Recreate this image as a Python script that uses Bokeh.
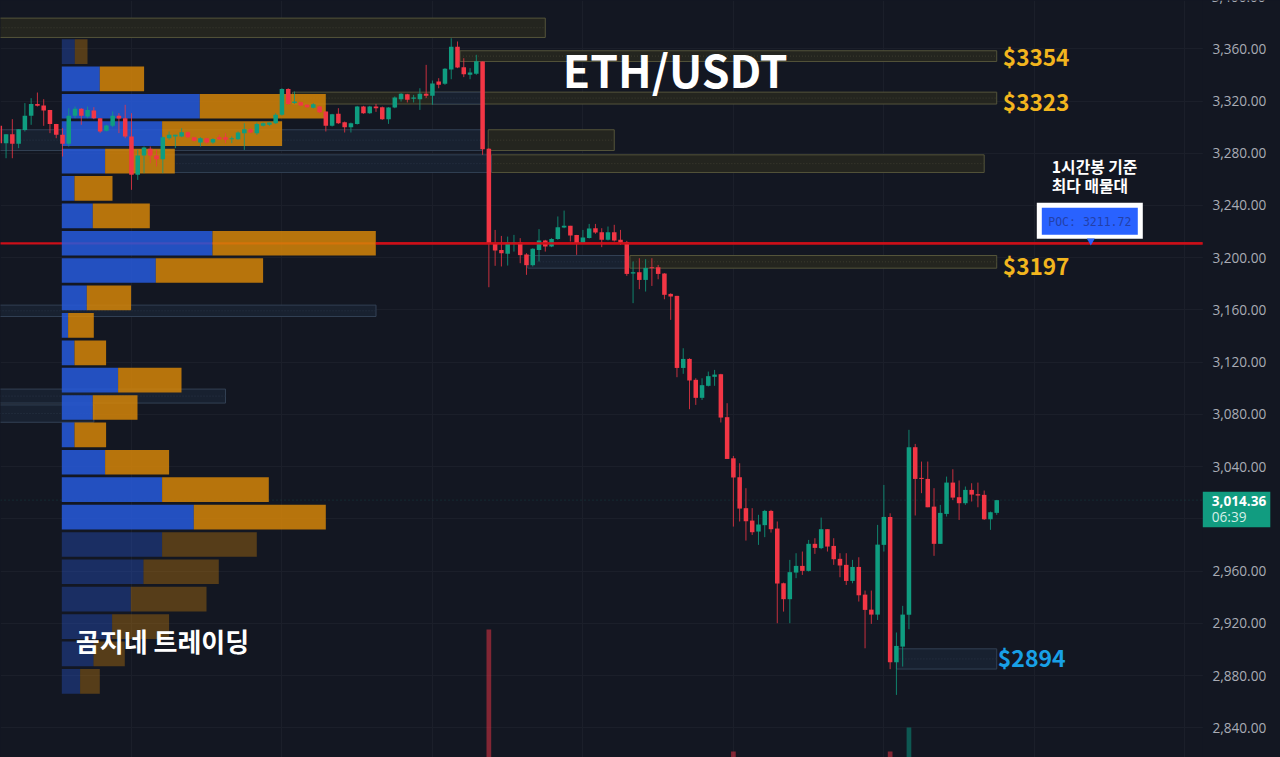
from bokeh.plotting import figure
from bokeh.models import Range1d, FixedTicker, NumeralTickFormatter, Span
from bokeh.core.properties import value
from bokeh.embed import file_html
from bokeh.resources import INLINE

# ---- candles (1 hour ETH/USDT) ----
opens = [
3301.0,3287.7,3294.6,3287.2,3297.9,3308.7,3317.8,3316.6,3313.2,3302.5,
3294.1,3287.2,3308.7,3314.0,3308.1,3312.7,3306.9,3297.2,3301.0,3308.7,
3306.9,3292.8,3263.5,3278.3,3283.4,3278.3,3275.5,3291.5,3292.8,3292.8,
3296.1,3292.3,3288.2,3291.5,3288.2,3292.3,3292.3,3290.8,3290.8,3295.4,
3298.4,3295.4,3301.0,3301.8,3303.0,3309.4,3329.3,3318.4,3319.1,3317.1,
3314.8,3315.8,3312.0,3301.0,3310.2,3303.8,3300.0,3302.5,3315.8,3310.7,
3315.8,3315.3,3306.1,3315.0,3321.4,3325.2,3321.7,3321.4,3325.5,3324.0,
3335.0,3333.2,3344.1,3361.5,3345.9,3340.1,3340.8,3350.3,3283.4,3211.1,
3206.0,3203.0,3210.6,3211.6,3202.5,3194.3,3206.0,3213.2,3208.6,3214.4,
3223.1,3224.4,3217.5,3211.6,3215.2,3222.6,3219.5,3213.7,3219.5,3213.7,
3211.9,3187.9,3188.9,3183.0,3192.7,3192.7,3187.9,3172.3,3170.8,3115.6,
3122.5,3106.5,3092.7,3101.9,3108.8,3110.8,3077.9,3046.4,3031.9,3008.2,
2998.7,2990.3,2995.2,3006.1,2992.6,2950.7,2938.5,2958.9,2964.0,2960.2,
2980.9,2977.6,2992.1,2979.3,2969.4,2964.8,2952.5,2963.2,2942.0,2930.5,
2926.7,2980.1,3001.5,2890.2,2902.2,2926.5,3054.9,3031.4,3030.6,3009.4,
2980.9,3003.8,3027.8,3016.6,3012.0,3022.2,3018.9,3018.4,2999.7,3004.6]
closes = [
3287.7,3294.6,3287.2,3298.4,3308.7,3317.8,3316.3,3312.7,3302.5,3294.1,
3287.2,3308.7,3314.0,3308.7,3313.2,3306.9,3296.7,3301.3,3308.7,3306.6,
3292.8,3263.5,3278.3,3284.4,3278.3,3275.5,3292.3,3294.1,3294.1,3296.1,
3292.3,3289.5,3291.5,3288.2,3291.0,3290.8,3290.3,3291.5,3295.9,3298.4,
3295.9,3302.5,3303.0,3303.5,3309.4,3329.3,3317.8,3319.6,3316.6,3315.3,
3317.6,3311.5,3301.0,3309.9,3303.0,3300.0,3303.0,3315.8,3310.7,3315.8,
3314.5,3306.1,3315.0,3322.7,3325.5,3320.9,3322.7,3325.5,3324.0,3333.4,
3332.4,3344.7,3361.5,3345.7,3340.6,3341.8,3350.5,3283.1,3211.1,3205.5,
3203.5,3211.6,3211.6,3202.0,3194.3,3206.8,3213.2,3208.6,3214.4,3223.4,
3224.4,3217.0,3211.1,3215.5,3222.4,3219.3,3213.7,3219.5,3213.2,3211.6,
3187.6,3188.9,3183.0,3192.2,3192.0,3187.6,3171.6,3170.3,3115.6,3122.5,
3106.0,3092.7,3102.4,3109.3,3110.5,3077.6,3045.9,3031.7,3007.9,2998.2,
2989.8,2995.7,3006.1,2992.1,2950.5,2938.5,2959.2,2964.0,2960.2,2980.9,
2977.8,2992.1,2978.8,2969.1,2964.3,2952.5,2963.2,2941.5,2930.3,2926.7,
2980.3,3001.5,2890.2,2902.7,2926.7,3054.9,3030.6,3030.6,3008.9,2980.9,
3004.6,3027.8,3016.3,3012.0,3022.2,3018.6,3017.9,2999.7,3005.1,3014.36]
highs = [
3301.0,3294.6,3306.1,3298.4,3318.4,3322.2,3326.5,3321.4,3313.2,3302.5,
3299.2,3314.5,3315.8,3314.5,3315.8,3315.3,3306.9,3301.8,3312.0,3310.7,
3317.1,3310.7,3282.6,3285.2,3285.2,3282.6,3292.8,3296.7,3294.1,3299.2,
3296.7,3292.3,3292.3,3291.8,3291.5,3294.1,3295.4,3292.8,3296.7,3303.0,
3299.2,3303.5,3303.5,3303.5,3310.7,3329.8,3329.8,3327.3,3319.6,3317.6,
3318.4,3316.3,3312.0,3310.2,3314.5,3304.3,3303.5,3316.3,3316.3,3316.3,
3317.8,3315.8,3315.3,3323.5,3326.0,3325.5,3324.7,3329.8,3347.7,3335.7,
3337.5,3345.2,3368.1,3365.6,3352.8,3345.2,3355.4,3350.3,3283.9,3221.3,
3216.7,3216.2,3217.5,3215.0,3203.5,3207.3,3221.9,3213.7,3215.0,3231.6,
3236.1,3224.4,3217.5,3221.3,3225.9,3225.9,3222.6,3223.9,3225.2,3221.3,
3212.9,3197.1,3199.6,3198.9,3199.6,3194.5,3188.2,3172.8,3170.8,3130.7,
3123.0,3107.7,3107.7,3112.8,3114.1,3111.1,3088.6,3048.2,3042.6,3023.5,
3008.2,3003.1,3006.9,3006.9,2998.0,2951.2,2968.6,2973.7,2975.0,2983.9,
2985.2,3001.0,2992.1,2985.2,2973.7,2973.7,2968.6,2970.6,2945.1,2945.1,
2995.4,3026.0,3004.3,2913.0,2933.4,3068.2,3057.4,3043.9,3043.9,3023.5,
3010.7,3032.4,3038.0,3029.4,3024.8,3027.3,3027.8,3021.7,3005.6,3014.5]
lows = [
3287.7,3276.2,3276.2,3283.9,3296.7,3301.8,3315.8,3301.0,3295.4,3291.5,
3277.5,3285.2,3306.9,3301.8,3306.9,3306.1,3295.4,3296.7,3300.0,3295.4,
3291.5,3252.0,3259.6,3264.7,3272.4,3269.9,3264.7,3290.3,3283.9,3292.3,
3291.5,3289.0,3285.2,3287.2,3287.2,3290.3,3287.7,3287.7,3290.3,3282.6,
3295.4,3294.1,3300.5,3301.0,3302.5,3308.7,3317.1,3317.8,3316.3,3314.8,
3314.3,3310.7,3296.7,3300.5,3302.5,3295.9,3295.9,3302.0,3310.2,3310.2,
3311.7,3305.6,3302.5,3314.5,3319.6,3318.9,3318.9,3313.2,3322.2,3317.1,
3329.8,3332.4,3336.7,3345.2,3338.3,3336.7,3340.1,3278.8,3177.4,3193.8,
3193.3,3194.0,3204.7,3195.8,3186.9,3193.3,3197.1,3204.7,3208.1,3213.7,
3222.6,3212.4,3202.2,3211.1,3214.7,3218.3,3208.1,3213.2,3212.4,3209.9,
3186.1,3165.2,3175.9,3174.1,3178.4,3183.5,3168.2,3152.4,3108.5,3111.1,
3084.0,3087.3,3091.1,3101.4,3101.9,3073.8,3045.9,2994.1,2998.0,2983.4,
2987.7,2980.1,2986.0,2989.5,2920.1,2929.0,2920.1,2954.6,2957.1,2959.7,
2973.2,2976.8,2975.0,2964.8,2955.3,2949.4,2950.7,2936.7,2900.9,2919.6,
2922.6,2975.0,2884.9,2865.2,2886.9,2915.5,3002.6,3019.7,3008.9,2971.7,
2980.9,3001.8,3014.5,2999.2,3010.7,3013.3,3008.9,2999.2,2991.6,3003.1]

# ---- visible traded-volume columns ----
vol_index = [78, 117, 142, 145]
vol_size = [128, 6, 6, 30]

# ---- volume profile ----
vp_price = [3357.9,3336.9,3316.0,3295.0,3274.0,3253.1,3232.1,3211.1,3190.2,3169.2,3148.2,3127.2,
            3106.3,3085.3,3064.3,3043.4,3022.4,3001.4,2980.4,2959.5,2938.5,2917.5,2896.6,2875.6]
vp_up = [13,38,138,100.3,43.3,12.7,31,150.7,94,25,6.3,12.7,56.3,31,12.7,43.3,100.3,132,100.3,81.7,69,50.3,31.7,18.3]
vp_down = [12.7,44.3,126,120,69.7,38,57,163.3,107.3,44.3,25.7,31.6,63.4,44.7,31.6,64,106.7,132,94.7,75.3,75.7,57,31.3,19.7]
vp_in_area = [False]+[True]*17+[False]*6

# ---- zones: first candle, last candle, upper price, lower price ----
yellow_start = [-1, 73.4, 46.7, 77.9, 78.4, 100.5]
yellow_end = [87, 159, 159, 98, 157, 159]
yellow_top = [3383.5, 3358.5, 3326.8, 3298.0, 3278.8, 3201.7]
yellow_bottom = [3368.7, 3350.3, 3317.7, 3282.1, 3265.3, 3192.0]
blue_start = [69, -1, 21, 84.2, -1, -1, -1, 143]
blue_end = [77, 77, 78.4, 100, 60, 36, 15, 159]
blue_top = [3326.8, 3298.0, 3278.8, 3201.7, 3163.7, 3099.4, 3087.3, 2900.5]
blue_bottom = [3317.7, 3282.1, 3265.3, 3192.0, 3155.0, 3088.7, 3074.0, 2885.0]

poc_price = 3211.0
last_price = 3014.36
price_ticks = [2840,2880,2920,2960,3000,3040,3080,3120,3160,3200,3240,3280,3320,3360]
time_ticks = [21,45,69,93,117,141,165,189]

# ---- scale geometry ----
W, H, PANE_W = 1280, 757, 1203
SHIFT = 0.7
STEP, PPU = 6.27, 1.3058
def X(px): return px / STEP
def Y(py): return 3360 - (py - 49) / PPU

BG = "#131722"
KR = value("Noto Sans CJK KR")

p = figure(width=W, height=H, output_backend="svg", toolbar_location=None,
           x_range=Range1d(X(SHIFT), X(W + SHIFT)), y_range=Range1d(Y(H + SHIFT), Y(SHIFT)),
           y_axis_location="right", min_border=0,
           background_fill_color=BG, border_fill_color=BG, outline_line_color=None)
p.extra_x_ranges["vp"] = Range1d(-62 + SHIFT, W - 62 + SHIFT)
p.extra_y_ranges["vol"] = Range1d(0, H)

p.xaxis.visible = False
p.xgrid.ticker = FixedTicker(ticks=time_ticks)
p.xgrid.grid_line_color = "#1b1f2a"
p.ygrid.grid_line_color = "#1b1f2a"

ax = p.yaxis[0]
ax.fixed_location = X(PANE_W + SHIFT)
ax.ticker = FixedTicker(ticks=price_ticks)
ax.formatter = NumeralTickFormatter(format="0,0.00")
ax.major_label_overrides = {3000: ""}
ax.axis_line_color = None
ax.major_tick_line_color = None
ax.minor_tick_line_color = None
ax.major_tick_in = 0
ax.major_tick_out = 0
ax.major_label_standoff = 9
ax.major_label_text_color = "#a9acb5"
ax.major_label_text_font = "Open Sans"
ax.major_label_text_font_size = "13.6px"

p.add_layout(Span(location=last_price, dimension="width", line_color="#1b6f63", line_alpha=0.45,
                  line_dash="1 3", line_width=1, level="underlay"))

# zones
def zones(x0, x1, top, bottom, fill, line, dots):
    p.quad(left=x0, right=x1, top=top, bottom=bottom, fill_color=fill, line_color=line, line_width=1)
    mid = [(a + b) / 2 for a, b in zip(top, bottom)]
    p.segment(x0=x0, x1=x1, y0=mid, y1=mid, line_color=dots, line_width=1, line_dash="1 2")

zones(yellow_start, yellow_end, yellow_top, yellow_bottom, "#24251f", "#54543a", "#3c3d30")
zones(blue_start, blue_end, blue_top, blue_bottom, "#182130", "#324054", "#293446")

# POC line under the profile
p.segment(x0=[X(0)], x1=[X(PANE_W)], y0=[poc_price], y1=[poc_price], line_color="#cc0f18", line_width=2.4)

# volume profile
vp_alpha = [0.85 if a else 0.35 for a in vp_in_area]
vp_mid = vp_up
vp_end = [u + d for u, d in zip(vp_up, vp_down)]
p.hbar(y=vp_price, left=[0]*len(vp_up), right=vp_mid, height=18.9, fill_color="#275adc",
       fill_alpha=vp_alpha, line_color=None, x_range_name="vp")
p.hbar(y=vp_price, left=vp_mid, right=vp_end, height=18.9, fill_color="#d58508",
       fill_alpha=vp_alpha, line_color=None, x_range_name="vp")

# visible volume columns
vol_colors = ["#f23645" if closes[i] < opens[i] else "#089981" for i in vol_index]
p.vbar(x=vol_index, bottom=[0]*len(vol_index), top=vol_size, width=0.75, fill_color=vol_colors,
       fill_alpha=0.5, line_color=None, y_range_name="vol")

# candles
idx = list(range(len(opens)))
colors = ["#0f9d80" if c >= o else "#f23645" for o, c in zip(opens, closes)]
p.segment(x0=idx, x1=idx, y0=lows, y1=highs, line_color=colors, line_width=1, line_alpha=0.8)
p.vbar(x=idx, top=[max(o, c) for o, c in zip(opens, closes)], bottom=[min(o, c) for o, c in zip(opens, closes)],
       width=0.72, fill_color=colors, line_color=None)

# POC line over the candles, right of the profile
p.segment(x0=[X(376)], x1=[X(PANE_W)], y0=[poc_price], y1=[poc_price], line_color="#cc0f18", line_width=2.4)

# POC tag
p.quad(left=[X(1037)], right=[X(1143)], top=[Y(203)], bottom=[Y(239)], fill_color="#ffffff", line_color=None)
p.quad(left=[X(1042)], right=[X(1138)], top=[Y(208)], bottom=[Y(235)], fill_color="#2962ff", line_color=None)
p.scatter(x=[X(1091)], y=[Y(241)], marker="inverted_triangle", size=8, fill_color="#2962ff", line_color=None)

def txt(px, py, s, size, color, font=KR, style="bold", align="left"):
    p.text(x=[X(px)], y=[Y(py)], text=[s], text_font=font, text_font_size=f"{size}px", text_font_style=style,
           text_color=color, text_baseline="middle", text_align=align)

txt(1090, 222, "POC: 3211.72", 11.5, "#2340a8", font=value("DejaVu Sans Mono"), style="normal", align="center")
txt(563, 69, "ETH/USDT", 44.5, "#ffffff")
txt(1003, 57, "$3354", 22.6, "#f2b51e")
txt(1003, 102, "$3323", 22.6, "#f2b51e")
txt(1003, 266, "$3197", 22.6, "#f2b51e")
txt(998, 657, "$2894", 23, "#18a0e6")
txt(1052, 166.5, "1시간봉 기준", 15.8, "#ffffff")
txt(1052, 185.5, "최다 매물대", 15.8, "#ffffff")
txt(76, 641, "곰지네 트레이딩", 26, "#ffffff")

# right-hand price pane: covers the grid, carries the last-price tag
p.quad(left=[X(PANE_W)], right=[X(W + 2)], top=[Y(-2)], bottom=[Y(H + 2)], fill_color=BG, line_color=None)
p.quad(left=[X(1203)], right=[X(1270.5)], top=[Y(492)], bottom=[Y(527.5)], fill_color="#119c80", line_color=None)
txt(1212, 501, "3,014.36", 13.6, "#ffffff", font=value("Open Sans"))
txt(1212, 517, "06:39", 13.6, "#d5efe8", font=value("Open Sans"), style="normal")
txt(1212, -3, "3,400.00", 13.6, "#a9acb5", font=value("Open Sans"), style="normal")

TEMPLATE = """{% block postamble %}<style>html,body{margin:0;padding:0;background:#131722;overflow:hidden}</style>{% endblock %}
"""
open("out.html", "w").write(file_html(p, INLINE, template=TEMPLATE))
